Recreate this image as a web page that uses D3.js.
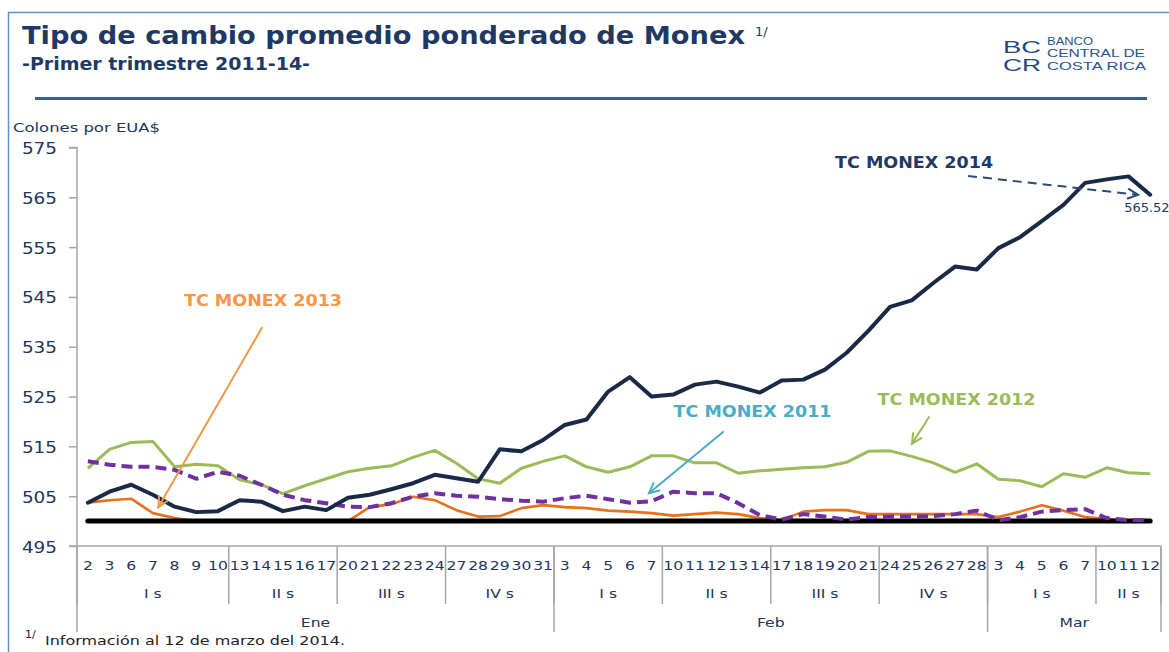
<!DOCTYPE html>
<html><head><meta charset="utf-8">
<script src="https://cdn.jsdelivr.net/npm/d3@7"></script>
<style>html,body{margin:0;padding:0;background:#fff;} svg{display:block}</style>
</head><body>
<svg id="chart" width="1169" height="652"></svg>
<script>
// ---------------- DATA ----------------
const days = ["2","3","6","7","8","9","10","13","14","15","16","17","20","21","22","23","24","27","28","29","30","31",
  "3","4","5","6","7","10","11","12","13","14","17","18","19","20","21","24","25","26","27","28",
  "3","4","5","6","7","10","11","12"];
const weekLabels = ["I s","II s","III s","IV s","I s","II s","III s","IV s","I s","II s"];
const weekSizes = [7,5,5,5,5,5,5,5,5,3];
const monthLabels = ["Ene","Feb","Mar"];
const monthSizes = [22,20,8];
const yTicks = [495,505,515,525,535,545,555,565,575];

const tc2014 = [503.7,505.9,507.3,505.3,502.9,501.8,502.0,504.2,503.9,502.0,
  502.9,502.2,504.7,505.3,506.4,507.6,509.3,508.6,507.9,514.4,
  514.0,516.3,519.3,520.4,526.0,528.9,525.0,525.4,527.4,528.0,
  527.0,525.8,528.2,528.4,530.4,533.8,538.2,543.0,544.3,547.8,
  551.1,550.5,554.8,557.0,560.2,563.5,567.9,568.6,569.2,565.52];
const tc2013 = [503.7,504.2,504.5,501.6,500.6,500.0,500.0,500.0,500.0,500.0,
  500.0,500.0,500.0,502.8,503.4,504.9,504.2,502.2,500.9,501.0,
  502.6,503.2,502.8,502.6,502.1,501.9,501.6,501.1,501.4,501.7,
  501.4,500.6,500.2,501.9,502.2,502.2,501.4,501.4,501.4,501.4,
  501.4,501.4,500.8,501.9,503.2,502.1,500.8,500.4,500.0,500.0];
const tc2012 = [510.6,514.4,515.8,516.0,510.9,511.4,511.1,508.3,507.3,505.5,
  507.1,508.5,509.9,510.6,511.1,512.8,514.2,511.6,508.5,507.6,
  510.6,512.0,513.1,510.9,509.8,510.9,513.1,513.1,511.7,511.7,
  509.6,510.1,510.4,510.7,510.9,511.8,514.0,514.1,513.0,511.7,
  509.8,511.5,508.4,508.1,506.9,509.5,508.8,510.7,509.7,509.5];
const tc2011 = [512.0,511.3,510.9,510.9,510.3,508.5,509.9,509.1,507.3,505.3,
  504.2,503.6,502.9,502.8,503.6,504.9,505.6,505.1,504.9,504.4,
  504.1,503.9,504.6,505.1,504.4,503.7,504.0,505.9,505.6,505.6,
  503.6,501.2,500.3,501.4,500.9,500.3,500.8,500.9,500.9,501.0,
  501.4,502.1,500.2,500.8,501.9,502.2,502.4,500.6,500.2,500.2];
const bandFloor = 500;
const lastLabel2014 = "565.52";

// annotations in data space (category index, value)
const annotNames = ["TC MONEX 2013","TC MONEX 2011","TC MONEX 2012","TC MONEX 2014"];
const annotLabelAt = [[8.08,543.1],[30.66,520.9],[40.07,523.3],[38.11,570.9]];
const annotArrowFrom = [[8.03,538.8],[29.3,517.9],[38.8,520.9],[40.6,569.3]];
const annotArrowTo = [[3.25,502.8],[25.88,505.6],[38.01,515.5],[48.44,565.5]];

// ---------------- STYLES ----------------
const C = {navy:"#1a2a46", green:"#9bbb59", orange:"#e8701a", purple:"#7030a0",
  axis:"#a6a6a6", text:"#22365a", title:"#1f3864"};
const annotColors = ["#f79646","#4bacc6","#9bbb59","#1f3864"];
const arrowColors = ["#f79646","#4bacc6","#9bbb59","#2a4a7a"];

const svg = d3.select("#chart");
const FONT = "'DejaVu Sans', Verdana, sans-serif";

// frame & header
svg.append("line").attr("x1",8.5).attr("x2",8.5).attr("y1",12).attr("y2",652)
  .attr("stroke","#5b8fd0").attr("stroke-width",1.5);
svg.append("line").attr("x1",8).attr("x2",1169).attr("y1",12.5).attr("y2",12.5)
  .attr("stroke","#5b8fd0").attr("stroke-width",1.5);

svg.append("text").attr("x",22).attr("y",44).attr("font-family",FONT).attr("font-weight","bold")
  .attr("font-size",24).attr("fill",C.title)
  .attr("textLength",723).attr("lengthAdjust","spacingAndGlyphs")
  .text("Tipo de cambio promedio ponderado de Monex");
svg.append("text").attr("x",755).attr("y",36).attr("font-family",FONT)
  .attr("font-size",13).attr("fill",C.title).text("1/");
svg.append("text").attr("x",22).attr("y",70).attr("font-family",FONT).attr("font-weight","bold")
  .attr("font-size",17).attr("fill",C.title)
  .attr("textLength",288).attr("lengthAdjust","spacingAndGlyphs")
  .text("-Primer trimestre 2011-14-");
svg.append("line").attr("x1",35).attr("x2",1147).attr("y1",98.5).attr("y2",98.5)
  .attr("stroke","#3a5f95").attr("stroke-width",3);

// logo
const logo = svg.append("g").attr("font-family","'Liberation Sans', Arial, sans-serif");
const logoBig = ["BC","CR"];
logo.selectAll("text.lb").data(logoBig).join("text").attr("class","lb")
  .attr("x",1003).attr("y",(d,i)=>52.5+i*18.6).attr("font-size",16.5).attr("fill","#1f497d")
  .attr("textLength",38).attr("lengthAdjust","spacingAndGlyphs").text(d=>d);
const logoT = ["BANCO","CENTRAL DE","COSTA RICA"];
const logoW = [46,98,99];
logo.selectAll("text.lt").data(logoT).join("text").attr("class","lt")
  .attr("x",1047).attr("y",(d,i)=>45+i*12.3).attr("font-size",11.5).attr("fill","#2a5492")
  .attr("textLength",(d,i)=>logoW[i])
  .attr("lengthAdjust","spacingAndGlyphs").text(d=>d);

// ---------------- SCALES ----------------
const n = days.length;
const x = d3.scaleBand().domain(d3.range(n)).range([77,1161]).paddingInner(0).paddingOuter(0);
const bw = x.bandwidth();
const xc = d3.scaleLinear().domain([0,n-1]).range([x(0)+bw/2, x(n-1)+bw/2]);
const y = d3.scaleLinear().domain([495,575]).range([546,147.5]);

// y axis
const yAxis = svg.append("g").attr("transform","translate(77,0)")
  .call(d3.axisLeft(y).tickValues(yTicks).tickSize(8).tickFormat(d3.format("d")));
yAxis.select(".domain").attr("stroke",C.axis).attr("stroke-width",1.5).attr("d",`M-8,${y(575)}H0V${y(495)}`);
yAxis.selectAll(".tick line").attr("stroke",C.axis).attr("stroke-width",1.5);
yAxis.selectAll(".tick text").attr("font-family",FONT).attr("font-size",16).attr("fill",C.text)
  .attr("x",null).attr("dy",null).attr("text-anchor","end")
  .attr("transform","translate(-20,6) scale(1.15,1)");

svg.append("text").attr("x",13).attr("y",132).attr("font-family",FONT).attr("font-size",13)
  .attr("fill",C.text).attr("textLength",147).attr("lengthAdjust","spacingAndGlyphs")
  .text("Colones por EUA$");

// x axis
svg.append("line").attr("x1",69).attr("x2",x.range()[1]).attr("y1",y(495)).attr("y2",y(495))
  .attr("stroke",C.axis).attr("stroke-width",1.5);
svg.append("g").selectAll("text").data(days).join("text")
  .attr("transform",(d,i)=>`translate(${x(i)+bw/2},570) scale(1.2,1)`)
  .attr("text-anchor","middle").attr("font-family",FONT).attr("font-size",13).attr("fill",C.text)
  .text(d=>d);

const weekStarts = weekSizes.map((s,i)=>d3.sum(weekSizes.slice(0,i)));
const monthStarts = monthSizes.map((s,i)=>d3.sum(monthSizes.slice(0,i)));
const sepX = k => k<n ? x(k) : x.range()[1];

svg.append("g").selectAll("line").data(weekStarts.concat([n])).join("line")
  .attr("x1",d=>sepX(d)).attr("x2",d=>sepX(d)).attr("y1",y(495)).attr("y2",604)
  .attr("stroke",C.axis).attr("stroke-width",1.5);
svg.append("g").selectAll("line").data(monthStarts.concat([n])).join("line")
  .attr("x1",d=>sepX(d)).attr("x2",d=>sepX(d)).attr("y1",y(495)).attr("y2",632)
  .attr("stroke",C.axis).attr("stroke-width",1.5);

svg.append("g").selectAll("text").data(weekLabels).join("text")
  .attr("transform",(d,i)=>`translate(${(sepX(weekStarts[i])+sepX(weekStarts[i]+weekSizes[i]))/2},598) scale(1.2,1)`)
  .attr("text-anchor","middle").attr("font-family",FONT).attr("font-size",13).attr("fill",C.text)
  .text(d=>d);
svg.append("g").selectAll("text").data(monthLabels).join("text")
  .attr("transform",(d,i)=>`translate(${(sepX(monthStarts[i])+sepX(monthStarts[i]+monthSizes[i]))/2},627) scale(1.2,1)`)
  .attr("text-anchor","middle").attr("font-family",FONT).attr("font-size",13).attr("fill",C.text)
  .text(d=>d);

// footnote
svg.append("text").attr("x",25).attr("y",638).attr("font-family",FONT).attr("font-size",11)
  .attr("fill","#222").text("1/");
svg.append("text").attr("x",45).attr("y",645).attr("font-family",FONT).attr("font-size",13)
  .attr("fill","#222").attr("textLength",300).attr("lengthAdjust","spacingAndGlyphs")
  .text("Información al 12 de marzo del 2014.");

// ---------------- LINES ----------------
const line = d3.line().x((d,i)=>x(i)+bw/2).y(d=>y(d));
const plot = svg.append("g").attr("fill","none").attr("stroke-linejoin","round");
plot.append("path").datum(tc2012).attr("d",line).attr("stroke",C.green).attr("stroke-width",3);
plot.append("path").datum(tc2013).attr("d",line).attr("stroke",C.orange).attr("stroke-width",2.6);
plot.append("line").attr("x1",xc(0)).attr("x2",xc(n-1)).attr("y1",y(bandFloor)).attr("y2",y(bandFloor))
  .attr("stroke","#000").attr("stroke-width",5).attr("stroke-linecap","round");
plot.append("path").datum(tc2011).attr("d",line).attr("stroke",C.purple).attr("stroke-width",4)
  .attr("stroke-dasharray","11,6");
plot.append("path").datum(tc2014).attr("d",line).attr("stroke",C.navy).attr("stroke-width",4)
  .attr("stroke-linecap","round");

// ---------------- ANNOTATIONS ----------------
const ann = svg.append("g");
annotNames.forEach((name,i)=>{
  const [fx,fy] = annotArrowFrom[i], [tx,ty] = annotArrowTo[i];
  const x1 = xc(fx), y1 = y(fy), x2 = xc(tx), y2 = y(ty);
  const g = ann.append("g").attr("stroke",arrowColors[i]).attr("fill","none")
    .attr("stroke-width",2).attr("stroke-linecap","round");
  g.append("line").attr("x1",x1).attr("y1",y1).attr("x2",x2).attr("y2",y2)
    .attr("stroke-dasharray",i===3?"9,6":null).attr("stroke-linecap",i===3?"butt":"round");
  const ang = Math.atan2(y2-y1,x2-x1), L = 11, a = 0.45;
  g.append("path").attr("d",
    `M${x2-L*Math.cos(ang-a)},${y2-L*Math.sin(ang-a)}L${x2},${y2}L${x2-L*Math.cos(ang+a)},${y2-L*Math.sin(ang+a)}`);
  const [lx,ly] = annotLabelAt[i];
  ann.append("text").attr("x",xc(lx)).attr("y",y(ly)).attr("text-anchor","middle")
    .attr("font-family",FONT).attr("font-weight","bold").attr("font-size",15)
    .attr("fill",annotColors[i]).attr("textLength",158).attr("lengthAdjust","spacingAndGlyphs")
    .text(name);
});
ann.append("text").attr("x",xc(47.8)).attr("y",y(562.1)).attr("font-family",FONT).attr("font-size",13)
  .attr("fill","#1f3864").text(lastLabel2014);
</script>
</body></html>
